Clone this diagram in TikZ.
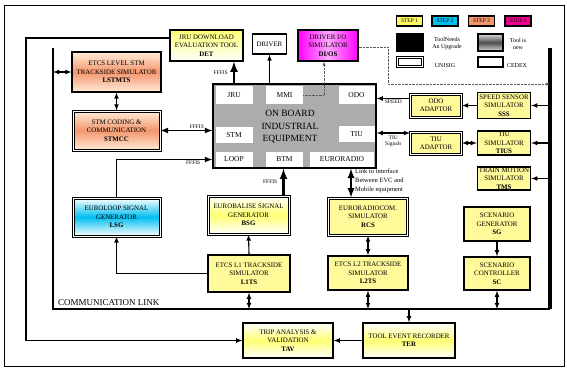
\documentclass[tikz,border=0pt]{standalone}
\usepackage{fontspec}
\setmainfont{Liberation Serif}
\usepackage{xcolor}
\usetikzlibrary{arrows,calc}
\definecolor{salmon}{RGB}{244,150,110}
\definecolor{skyb}{RGB}{0,190,240}

\begin{document}
\begin{tikzpicture}[x=1pt,y=-1pt,
   box/.style={draw,line width=1.1pt,inner sep=0pt,align=center,font=\fontsize{6.9}{8.3}\selectfont},
   dbox/.style={box,double,double distance=1pt,line width=1pt},
   sz/.style 2 args={minimum width=#1pt,minimum height=#2pt},
   yel/.style={fill=yellow!40},
   yelsh/.style={top color=white,bottom color=white,middle color=yellow!55},
   yeltop/.style={top color=yellow!55,bottom color=white},
   orash/.style={top color=orange!15,bottom color=orange!15,middle color=salmon},
   cyash/.style={top color=white,bottom color=white,middle color=skyb},
   magsh/.style={left color=magenta,right color=magenta,middle color=magenta!35},
   sub/.style={fill=white,inner sep=0pt,font=\fontsize{7.5}{9}\selectfont},
   lbl/.style={inner sep=1pt,font=\fontsize{5.5}{6.5}\selectfont},
   leg/.style={inner sep=0pt,align=center,font=\fontsize{6}{7}\selectfont},
   link/.style={-latex,line width=1.1pt},
   blink/.style={latex-latex,line width=1.1pt},
   fat/.style={-latex,line width=2.5pt},
   dots/.style={densely dotted,gray!70!black,-latex}]
\useasboundingbox (0,0) rectangle (567,369);
\draw[line width=1pt] (4,6) rectangle (564,366);

\node[box,fill=yellow!60,line width=1.4pt,sz={26}{10},font=\fontsize{5.5}{6}\selectfont] (step1) at (409.5,21) {STEP 1};
\node[box,fill=skyb,line width=1.4pt,sz={26}{10},font=\fontsize{5.5}{6}\selectfont] (step2) at (445,21) {STEP 2};
\node[box,fill=salmon,line width=1.4pt,sz={26}{10},font=\fontsize{5.5}{6}\selectfont] (step3) at (481.5,21) {STEP 3};
\node[box,fill=magenta,line width=1.4pt,sz={26}{10},font=\fontsize{5.5}{6}\selectfont] (step4) at (518,21) {STEP 4};
\node[box,fill=black,line width=1.4pt,sz={26}{17}] (upgr) at (410,42.5) {};
\node[box,top color=gray!30,bottom color=gray!30,middle color=black!70,line width=1.4pt,sz={25}{17}] (newt) at (490.5,42.5) {};
\node[dbox,fill=white,sz={25}{9}] (unisig) at (410,62) {};
\node[box,fill=white,sz={25}{10}] (cedex) at (490.5,62) {};
\node[leg] (upgrtxt) at (447,44) {ToolNeeds\\An Upgrade};
\node[leg] (newtxt) at (518,44) {Tool is\\new};
\node[leg] (unitxt) at (445,66) {UNISIG};
\node[leg] (cedtxt) at (517,66) {CEDEX};

\coordinate (cltl) at (53,48);
\coordinate (clbl) at (53,309);
\coordinate (clbr) at (550,309);
\coordinate (cltr) at (550,48);
\draw[line width=2.5pt] (cltl) -- (clbl) -- (clbr);
\draw[line width=4pt] (clbr) -- (cltr);
\node[anchor=south west,inner sep=0pt,font=\fontsize{9}{10}\selectfont] (cltxt) at (58,306) {COMMUNICATION LINK};

\node[box,orash,sz={89}{40}] (lstmts) at (116.5,72) {ETCS LEVEL STM\\TRACKSIDE SIMULATOR\\\textbf{LSTMTS}};
\node[dbox,orash,sz={87}{39}] (stmcc) at (116.5,130.5) {STM CODING \&\\COMMUNICATION\\\textbf{STMCC}};
\node[dbox,cyash,sz={87}{38}] (lsg) at (116.5,217) {EUROLOOP SIGNAL\\GENERATOR\\\textbf{LSG}};
\node[box,yeltop,sz={73}{31}] (det) at (206.5,45.5) {JRU DOWNLOAD\\EVALUATION TOOL\\\textbf{DET}};
\node[box,fill=white,sz={34}{20}] (driver) at (269.5,44) {DRIVER};
\node[box,magsh,sz={60}{31}] (dios) at (328,45.5) {DRIVER I/O\\SIMULATOR\\\textbf{DI/OS}};

\node[box,fill=gray!65,line width=1.3pt,sz={163}{84}] (obu) at (294.5,126) {};
\node[align=center,font=\fontsize{9.5}{12.5}\selectfont] (obutxt) at (290,127) {ON BOARD\\INDUSTRIAL\\EQUIPMENT};
\node[sub,sz={37}{18}] (jru) at (234,95) {JRU};
\node[sub,sz={37}{18}] (mmi) at (284.5,95) {MMI};
\node[sub,sz={36}{18}] (odo) at (356.5,95) {ODO};
\node[sub,sz={37}{16}] (stm) at (234,135) {STM};
\node[sub,sz={36}{16}] (tiu) at (356.5,134) {TIU};
\node[sub,sz={37}{15}] (loop) at (234,159.5) {LOOP};
\node[sub,sz={37}{15}] (btm) at (284.5,159.5) {BTM};
\node[sub,sz={64}{15}] (euroradio) at (342,159.5) {EURORADIO};

\node[dbox,yel,sz={51}{23}] (odoad) at (436,105.5) {ODO\\ADAPTOR};
\node[box,yel,line width=1.4pt,sz={53}{26}] (sss) at (504,105.5) {SPEED SENSOR\\SIMULATOR\\\textbf{SSS}};
\node[dbox,yel,sz={51}{22}] (tiuad) at (436,143) {TIU\\ADAPTOR};
\node[box,yel,line width=1.4pt,sz={53}{24}] (tius) at (504,143) {TIU\\SIMULATOR\\\textbf{TIUS}};
\node[box,yel,line width=1.4pt,sz={53}{23}] (tms) at (504,178.5) {TRAIN MOTION\\SIMULATOR\\\textbf{TMS}};
\node[box,yel,line width=1.4pt,sz={66}{34}] (sg) at (497,224) {SCENARIO\\GENERATOR\\\textbf{SG}};
\node[box,yel,line width=1.4pt,sz={66}{33}] (sc) at (497,273.5) {SCENARIO\\CONTROLLER\\\textbf{SC}};

\node[dbox,yel,sz={79}{37}] (rcs) at (368,216.5) {EURORADIOCOM.\\SIMULATOR\\\textbf{RCS}};
\node[box,yel,line width=1.4pt,sz={80}{34}] (l2ts) at (368,273) {ETCS L2 TRACKSIDE\\SIMULATOR\\\textbf{L2TS}};
\node[dbox,yelsh,sz={81}{38}] (bsg) at (248.5,215) {EUROBALISE SIGNAL\\GENERATOR\\\textbf{BSG}};
\node[box,yel,line width=1.4pt,sz={82}{37}] (l1ts) at (249,273.5) {ETCS L1 TRACKSIDE\\SIMULATOR\\\textbf{L1TS}};
\node[box,yelsh,line width=1.4pt,sz={92}{35}] (ter) at (409,340.5) {TOOL EVENT RECORDER\\\textbf{TER}};
\node[box,yelsh,line width=1.4pt,sz={90}{35}] (tav) at (288,340.5) {TRIP ANALYSIS \&\\VALIDATION\\\textbf{TAV}};

\coordinate (jrulink) at (26,38);
\coordinate (dtap) at (388,84);

\draw[blink] (cltl |- lstmts.west) -- (lstmts.west);
\draw[blink] (lstmts.south) -- (stmcc.north);
\draw[latex-latex,line width=1.6pt] (stmcc.east) -- (stmcc.east -| obu.west) node[lbl,above,pos=0.7] {FFFIS};
\draw[-latex,line width=1.6pt] (lsg.north) |- (obu.west |- loop) node[lbl,below,pos=0.9] {FFFIS};
\draw[fat] (jru |- obu.north) -- (jru |- det.south) node[lbl,left,midway,xshift=-4pt] {FFFIS};
\draw[link] (driver |- obu.north) -- (driver.south);
\draw[dots] (mmi.east) -| ([xshift=-4pt]dios.south);
\draw[dots] ([yshift=-2pt]dios.east) -| (dtap) -- (cltr |- dtap);

\draw[link] ([yshift=7pt]odoad.west) -- ([yshift=7pt]odoad.west -| obu.east) node[lbl,below,midway] {SPEED};
\draw[link] (sss.west) -- (odoad.east);
\draw[link] (cltr |- sss) -- (sss.east);
\draw[blink] ([yshift=10pt]tiuad.west -| obu.east) -- ([yshift=10pt]tiuad.west) node[lbl,below,midway,align=center,yshift=-1pt] {TIU\\Signals};
\draw[blink] (tius.west) -- (tiuad.east);
\draw[link] (cltr |- tius) -- (tius.east);
\draw[link] (cltr |- tms) -- (tms.east);
\draw[link] (sg.south) -- (sc.north);
\draw[blink] (sc.south) -- (sc |- clbr);

\draw[latex-latex,line width=2.2pt] ([xshift=-17pt]rcs.north) -- ([xshift=-17pt]rcs.north |- obu.south);
\node[anchor=north west,align=left,inner sep=0pt,font=\fontsize{6.5}{9}\selectfont] (linktxt) at (355,169) {Link to interface\\Between EVC and\\Mobile equipment};
\draw[blink] (rcs.south) -- (l2ts.north);
\draw[blink] (l2ts.south) -- (l2ts |- clbr);
\draw[fat] ([xshift=-6pt]bsg.north east) -- ([xshift=-6pt]bsg.north east |- obu.south) node[lbl,left,midway,xshift=-4pt] {FFFIS};
\draw[link] (l1ts.north) -- (bsg.south);
\draw[link] (l1ts.west) -| (lsg.south);
\draw[blink] (l1ts.south) -- (l1ts |- clbr);
\draw[link] (ter |- clbr) -- (ter.north);
\draw[link] (ter.west) -- (tav.east);
\draw[link] (det.west |- jrulink) -- (jrulink) |- (tav.west);
\end{tikzpicture}
\end{document}
